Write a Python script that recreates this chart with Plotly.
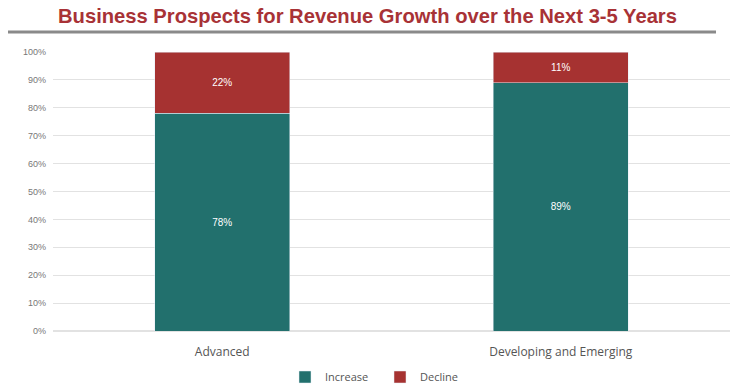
import plotly.graph_objects as go

categories = ["Advanced", "Developing and Emerging"]
increase = [78, 89]
decline = [22, 11]
tick_vals = [0, 10, 20, 30, 40, 50, 60, 70, 80, 90, 100]
tick_text = [f"{v}%" for v in tick_vals]

TEAL = "#22706d"
RED = "#a63231"

W, H = 731, 387
ML, MR, MT, MB = 53, 1, 52, 56
plot_w = W - ML - MR
plot_h = H - MT - MB


def py(pixel_y):
    """Convert a pixel row (from top of page) to a paper y fraction."""
    return (H - MB - pixel_y) / plot_h


def px(pixel_x):
    return (pixel_x - ML) / plot_w


fig = go.Figure()
fig.add_trace(go.Bar(
    name="Increase", x=categories, y=increase, marker_color=TEAL,
    text=[f"{v}%" for v in increase], textposition="inside", insidetextanchor="middle",
    textfont=dict(color="white", size=10, family="Liberation Sans"),
))
fig.add_trace(go.Bar(
    name="Decline", x=categories, y=decline, marker_color=RED,
    text=[f"{v}%" for v in decline], textposition="inside", insidetextanchor="middle",
    textfont=dict(color="white", size=10, family="Liberation Sans"),
))

fig.update_layout(
    barmode="stack",
    bargap=0.6,
    width=W, height=H,
    margin=dict(l=ML, r=MR, t=MT, b=MB, autoexpand=False),
    paper_bgcolor="white", plot_bgcolor="white",
    showlegend=True,
    legend=dict(orientation="h", x=px(380), xanchor="center", y=py(377), yanchor="middle",
                font=dict(family="Open Sans", size=11, color="#555"),
                itemwidth=30, entrywidth=50, traceorder="normal"),
    xaxis=dict(tickfont=dict(family="Open Sans", size=12, color="#555"),
               showline=False, ticks="", ticklabelstandoff=12),
    yaxis=dict(range=[0, 100], tickvals=tick_vals, ticktext=tick_text,
               tickfont=dict(family="Liberation Sans", size=9, color="#777"),
               gridcolor="#e2e2e2", gridwidth=1, zeroline=True, zerolinecolor="#e2e2e2",
               ticklabelstandoff=6),
    annotations=[dict(
        text="<b>Business Prospects for Revenue Growth over the Next 3-5 Years</b>",
        x=px(367), xref="paper", xanchor="center", y=py(16), yref="paper", yanchor="middle",
        showarrow=False,
        font=dict(family="Liberation Sans", size=20.2, color="#a83236"),
    )],
)
# grey rule beneath the heading
fig.add_shape(type="line", xref="paper", yref="paper",
              x0=px(8), x1=px(716), y0=py(32), y1=py(32),
              line=dict(color="#8a8a8a", width=3))

fig.write_html("out.html")
